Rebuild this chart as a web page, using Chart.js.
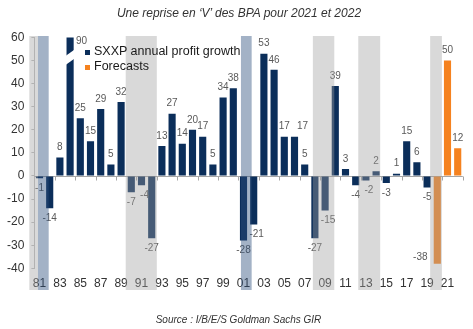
<!DOCTYPE html>
<html>
<head>
<meta charset="utf-8">
<script src="https://cdn.jsdelivr.net/npm/chart.js@4.4.1/dist/chart.umd.min.js"></script>
<style>
  html, body { margin: 0; padding: 0; background: #fff; }
  #wrap { position: relative; width: 473px; height: 329px; font-family: "Liberation Sans", Arial, sans-serif; }
  #chart { position: absolute; left: 0; top: 0; }
  .title { position: absolute; left: 0; top: 6px; width: 478px; text-align: center; font-style: italic; font-size: 12px; color: #333; }
  .source { position: absolute; left: 0; top: 314px; width: 477px; text-align: center; font-style: italic; font-size: 10px; color: #333; }
  #legend { position: absolute; left: 85px; top: 44px; font-size: 12.5px; color: #1a1a1a; line-height: 15px; }
  #legend div { position: relative; padding-left: 9px; white-space: nowrap; }
  #legend span { position: absolute; left: 0; top: 6px; width: 5px; height: 5px; }
</style>
</head>
<body>
<div id="wrap">
  <canvas id="chart" width="473" height="329"></canvas>
  <div class="title">Une reprise en ‘V’ des BPA pour 2021 et 2022</div>
  <div id="legend"></div>
  <div class="source">Source : I/B/E/S Goldman Sachs GIR</div>
</div>
<script>
// years 1981 -> 2022
const years = ['81','82','83','84','85','86','87','88','89','90','91','92','93','94',
  '95','96','97','98','99','00','01','02','03','04','05','06','07','08','09','10',
  '11','12','13','14','15','16','17','18','19','20','21','22'];

// SXXP annual profit growth, %
const growth = [-1, -14, 8, 90, 25, 15, 29, 5, 32, -7, -4, -27, 13, 27, 14, 20, 17, 5,
  34, 38, -28, -21, 53, 46, 17, 17, 5, -27, -15, 39, 3, -4, -2, 2, -3, 1, 15, 6, -5,
  null, null, null];

// 2020 estimate + 2021/2022 forecasts
const forecasts = [null, null, null, null, null, null, null, null, null, null, null,
  null, null, null, null, null, null, null, null, null, null, null, null, null, null,
  null, null, null, null, null, null, null, null, null, null, null, null, null, null,
  -38, 50, 12];

const yMin = -40, yMax = 60, yStep = 10;

// shaded periods (fractional years)
const greyPeriods = [[1980.0, 1980.85], [1989.45, 1992.5], [2007.8, 2009.9], [2012.25, 2014.4], [2019.3, 2020.45]];
const bluePeriods = [[1980.85, 1981.9], [2000.75, 2001.8]];

const NAVY = '#0b2e5a';
const ORANGE = '#f5821f';
const firstYear = 1981;

// zero line with a tick every two years
const zeroAxis = {
  id: 'zeroAxis',
  beforeDatasetsDraw(chart) {
    const { ctx, chartArea, scales: { x, y } } = chart;
    const y0 = Math.round(y.getPixelForValue(0)) + 0.5;
    ctx.save();
    ctx.strokeStyle = '#a6a6a6';
    ctx.lineWidth = 1;
    ctx.beginPath();
    ctx.moveTo(chartArea.left, y0);
    ctx.lineTo(chartArea.right, y0);
    for (let i = 2; i <= years.length; i += 2) {
      const px = Math.round(x.getPixelForValue(i - 0.5)) + 0.5;
      ctx.moveTo(px, y0);
      ctx.lineTo(px, y0 + 4);
    }
    ctx.stroke();
    ctx.restore();
  }
};

// break mark on the bar that runs off the top
const barBreak = {
  id: 'barBreak',
  afterDatasetsDraw(chart) {
    const { ctx, scales: { y } } = chart;
    growth.forEach((v, i) => {
      if (v === null || v <= yMax) return;
      const el = chart.getDatasetMeta(0).data[i];
      const l = el.x - el.width / 2 - 1, r = el.x + el.width / 2 + 1;
      const c = y.getPixelForValue(51.5);
      ctx.save();
      ctx.fillStyle = '#fff';
      ctx.beginPath();
      ctx.moveTo(l, c - 1);
      ctx.lineTo(r, c - 7.5);
      ctx.lineTo(r, c + 1.5);
      ctx.lineTo(l, c + 8);
      ctx.closePath();
      ctx.fill();
      ctx.restore();
    });
  }
};

// value labels
const valueLabels = {
  id: 'valueLabels',
  afterDatasetsDraw(chart) {
    const { ctx, chartArea } = chart;
    ctx.save();
    ctx.font = '10px "Liberation Sans", Arial, sans-serif';
    ctx.fillStyle = '#595959';
    ctx.textAlign = 'center';
    ctx.textBaseline = 'middle';
    chart.data.datasets.forEach((ds, d) => {
      const meta = chart.getDatasetMeta(d);
      ds.data.forEach((v, i) => {
        if (v === null) return;
        const el = meta.data[i];
        let px = el.x, py;
        if (v > yMax) {
          px = el.x + 11.5;
          py = chartArea.top + 4;
        } else if (v <= yMin + 5) {
          px = el.x - 17;
          py = el.y - 6;
        } else {
          py = v >= 0 ? el.y - 10 : el.y + 10;
          // keep neighbouring labels from touching
          if (i > 0 && ds.data[i - 1] !== null && v < 0 && ds.data[i - 1] < 0 && v > ds.data[i - 1]) px += 3;
          if (i > 0 && v >= 0 && ds.data[i - 1] === v) px += 8;
        }
        ctx.fillText(String(v), px, py);
      });
    });
    ctx.restore();
  }
};

// translucent period shading laid over everything
const periods = {
  id: 'periods',
  afterDraw(chart) {
    const { ctx, chartArea, scales: { x } } = chart;
    const top = chartArea.top - 1.5, bottom = 290;
    const fill = (list, colour) => {
      ctx.fillStyle = colour;
      list.forEach(([a, b]) => {
        const x0 = x.getPixelForValue(a - firstYear);
        const x1 = x.getPixelForValue(b - firstYear);
        ctx.fillRect(x0, top, x1 - x0, bottom - top);
      });
    };
    ctx.save();
    fill(greyPeriods, 'rgba(160,160,160,0.40)');
    fill(bluePeriods, 'rgba(45,80,125,0.44)');
    ctx.restore();
  }
};

const chart = new Chart(document.getElementById('chart'), {
  type: 'bar',
  data: {
    labels: years,
    datasets: [
      { label: 'SXXP annual profit growth', data: growth, backgroundColor: NAVY, grouped: false },
      { label: 'Forecasts', data: forecasts, backgroundColor: ORANGE, grouped: false }
    ]
  },
  options: {
    responsive: false,
    animation: false,
    events: [],
    layout: { padding: { left: 0, right: 10.2, top: 37.5, bottom: 38.7 } },
    datasets: { bar: { barPercentage: 0.7, categoryPercentage: 1 } },
    plugins: {
      legend: { display: false },
      tooltip: { enabled: false }
    },
    scales: {
      x: {
        grid: { display: false, drawTicks: false },
        border: { display: false },
        ticks: {
          autoSkip: false,
          maxRotation: 0,
          padding: 8,
          color: '#333',
          font: { family: '"Liberation Sans", Arial, sans-serif', size: 12 },
          callback: (v, i) => (i % 2 === 0 ? years[i] : '')
        },
        afterFit(s) { s.height = 22; }
      },
      y: {
        min: yMin,
        max: yMax,
        ticks: {
          stepSize: yStep,
          padding: 7,
          color: '#333',
          font: { family: '"Liberation Sans", Arial, sans-serif', size: 12 }
        },
        grid: { drawOnChartArea: false, tickLength: 3, color: '#bfbfbf' },
        border: { color: '#bfbfbf' },
        afterFit(s) { s.width = 34.4; }
      }
    }
  },
  plugins: [zeroAxis, barBreak, valueLabels, periods]
});

// legend built from the datasets
const legend = document.getElementById('legend');
chart.data.datasets.forEach(ds => {
  const row = document.createElement('div');
  const sw = document.createElement('span');
  sw.style.background = ds.backgroundColor;
  row.appendChild(sw);
  row.appendChild(document.createTextNode(ds.label));
  legend.appendChild(row);
});
</script>
</body>
</html>
